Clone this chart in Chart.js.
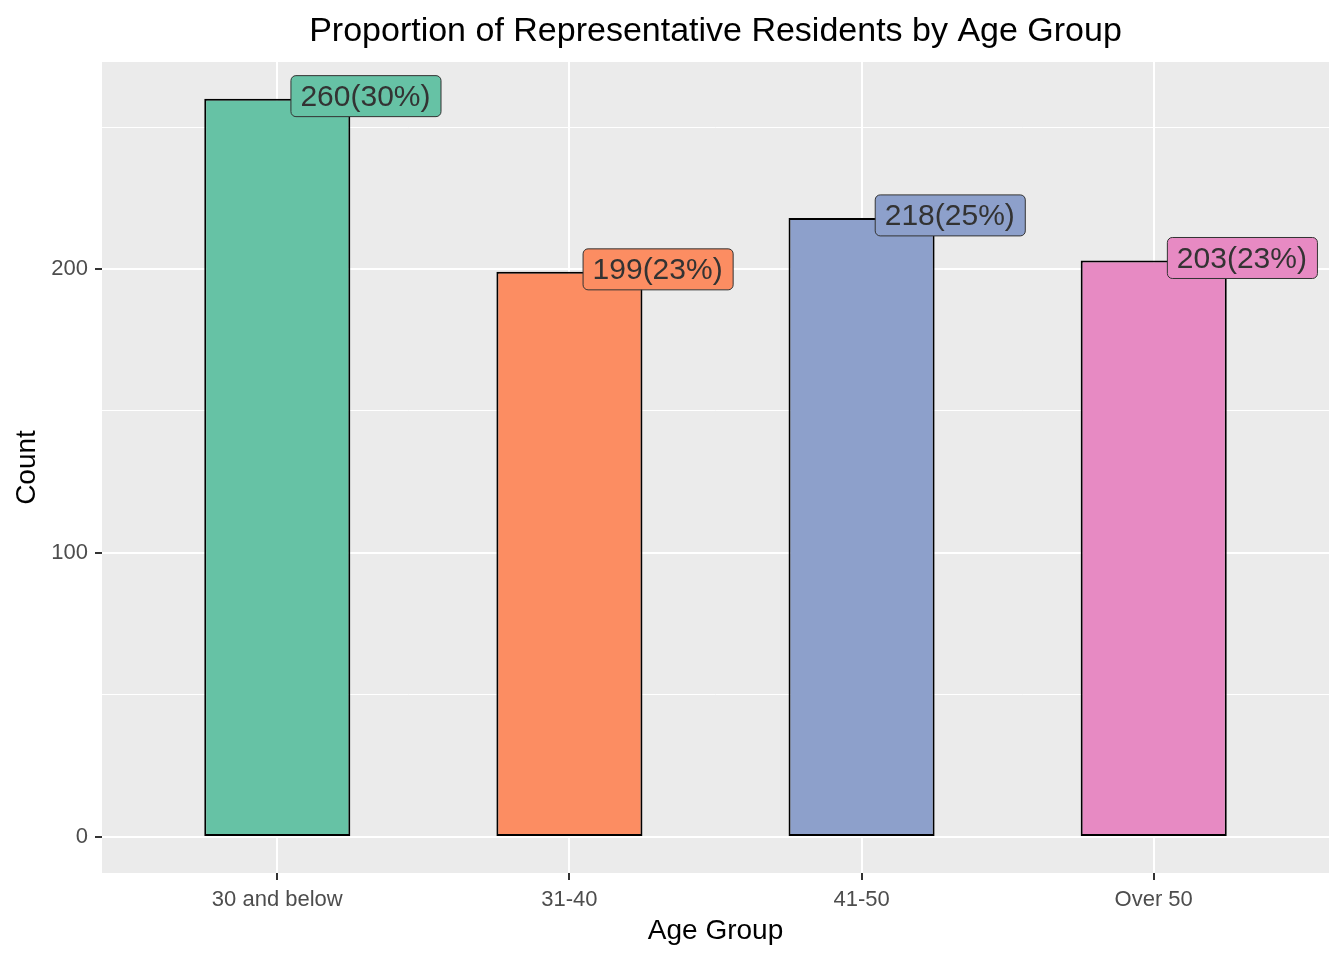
<!DOCTYPE html>
<html>
<head>
<meta charset="utf-8">
<script src="https://cdn.jsdelivr.net/npm/chart.js@4"></script>
<style>
  html, body { margin: 0; padding: 0; background: #fff; }
  #wrap { width: 1344px; height: 960px; }
</style>
</head>
<body>
<div id="wrap"><canvas id="barChart" width="1344" height="960"></canvas></div>
<script>
const ageGroups = ['30 and below', '31-40', '41-50', 'Over 50'];
const counts = [260, 199, 218, 203];
const percents = [30, 23, 25, 23];
const barColors = ['#66C2A5', '#FC8D62', '#8DA0CB', '#E78AC3'];
const yTicks = [0, 50, 100, 150, 200, 250];

const FONT = "'Liberation Sans', Arial, sans-serif";

// grey panel behind the grid, ggplot style
const panelBg = {
    id: 'panelBg',
    beforeDraw(chart) {
        const {ctx, chartArea: a} = chart;
        ctx.save();
        ctx.fillStyle = '#EBEBEB';
        ctx.fillRect(a.left, a.top, a.right - a.left, a.bottom - a.top);
        ctx.restore();
    }
};

// title centred on the panel, not the canvas
const panelTitle = {
    id: 'panelTitle',
    afterDraw(chart) {
        const {ctx, chartArea: a} = chart;
        ctx.save();
        ctx.font = '34px ' + FONT;
        ctx.fillStyle = '#000';
        ctx.textAlign = 'center';
        ctx.textBaseline = 'alphabetic';
        ctx.fillText('Proportion of Representative Residents by Age Group', (a.left + a.right) / 2, 41);
        ctx.restore();
    }
};

// geom_label like boxes next to the bar tops
const barLabels = {
    id: 'barLabels',
    afterDatasetsDraw(chart) {
        const {ctx, scales: {x, y}} = chart;
        ctx.save();
        ctx.font = '30px ' + FONT;
        ctx.textBaseline = 'middle';
        ctx.textAlign = 'left';
        counts.forEach((v, i) => {
            const txt = v + '(' + percents[i] + '%)';
            const left = x.getPixelForValue(i + 0.045);
            const cy = y.getPixelForValue(v) - 3;
            const w = ctx.measureText(txt).width + 20;
            const h = 41;
            ctx.beginPath();
            ctx.roundRect(left + 0.5, cy - h / 2 + 0.5, w, h, 5);
            ctx.fillStyle = barColors[i];
            ctx.fill();
            ctx.lineWidth = 1;
            ctx.strokeStyle = '#333333';
            ctx.stroke();
            ctx.fillStyle = '#333333';
            ctx.fillText(txt, left + 10, cy + 2);
        });
        ctx.restore();
    }
};

const ctxbar = document.getElementById('barChart');
const barChart = new Chart(ctxbar, {
    type: 'bar',
    data: {
        datasets: [{
            label: 'Count',
            data: counts.map((v, i) => ({x: i, y: v})),
            backgroundColor: barColors,
            borderColor: '#000000',
            borderWidth: 2,
            borderSkipped: false,
            barPercentage: 0.5,
            categoryPercentage: 1.0
        }]
    },
    plugins: [panelBg, panelTitle, barLabels],
    options: {
        responsive: false,
        animation: false,
        devicePixelRatio: 1,
        layout: {
            padding: { top: 62, right: 15, left: 0, bottom: 0 }
        },
        plugins: {
            legend: { display: false },
            title: { display: false },
            tooltip: { enabled: false }
        },
        scales: {
            x: {
                type: 'linear',
                min: -0.6,
                max: 3.6,
                offset: false,
                afterBuildTicks: (scale) => {
                    scale.ticks = ageGroups.map((c, i) => ({value: i}));
                },
                afterFit: (scale) => { scale.height = 87; },
                ticks: {
                    autoSkip: false,
                    maxRotation: 0,
                    padding: 7,
                    color: '#4D4D4D',
                    font: { family: FONT, size: 22 },
                    callback: (v) => ageGroups[v]
                },
                grid: {
                    offset: false,
                    color: '#FFFFFF',
                    lineWidth: 2,
                    tickColor: '#333333',
                    tickWidth: 2,
                    tickLength: 7
                },
                border: { display: false },
                title: {
                    display: true,
                    text: 'Age Group',
                    color: '#000000',
                    font: { family: FONT, size: 28 },
                    padding: { top: 0, bottom: 12 }
                }
            },
            y: {
                min: -12.7,
                max: 272.9,
                afterBuildTicks: (scale) => {
                    scale.ticks = yTicks.map(v => ({value: v}));
                },
                afterFit: (scale) => { scale.width = 102; },
                ticks: {
                    padding: 7,
                    color: '#4D4D4D',
                    font: { family: FONT, size: 22 },
                    callback: (v) => (v % 100 === 0 ? v : '')
                },
                grid: {
                    color: '#FFFFFF',
                    lineWidth: (c) => (c.tick && c.tick.value % 100 === 0 ? 2 : 1),
                    tickColor: (c) => (c.tick && c.tick.value % 100 === 0 ? '#333333' : 'rgba(0,0,0,0)'),
                    tickWidth: 2,
                    tickLength: 7
                },
                border: { display: false },
                title: {
                    display: true,
                    text: 'Count',
                    color: '#000000',
                    font: { family: FONT, size: 28 },
                    padding: { top: 10, bottom: 0 }
                }
            }
        }
    }
});
</script>
</body>
</html>
